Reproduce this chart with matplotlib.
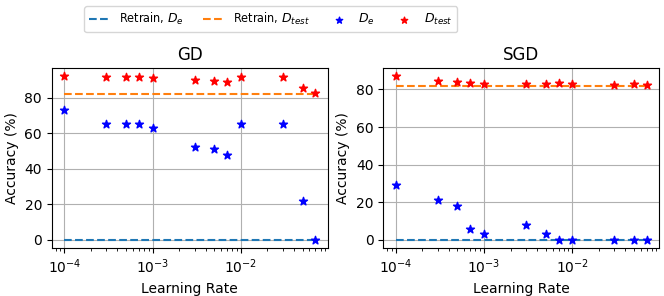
import numpy as np
import matplotlib as mpl
mpl.use('Agg')
import matplotlib.pyplot as plt

lrs = [1e-4, 3e-4, 5e-4, 7e-4, 1e-3, 3e-3, 5e-3, 7e-3, 1e-2, 3e-2, 5e-2, 7e-2]

gd_de = [73, 65, 65, 65, 63, 52, 51, 48, 65, 65, 22, 0]
gd_test = [92, 91.5, 91.5, 91.5, 91, 90, 89.5, 89, 91.5, 91.5, 85.5, 82.5]
sgd_de = [29, 21, 18, 6, 3, 8, 3, 0, 0, 0, 0, 0]
sgd_test = [87, 84.5, 84, 83.5, 83, 83, 83, 83.5, 83, 82.5, 83, 82.5]

retrain_de = 0
retrain_test = 82

titles = ['GD', 'SGD']
series = [(gd_de, gd_test), (sgd_de, sgd_test)]

fs = 10
fig, axes = plt.subplots(1, 2, figsize=(6.64, 2.96), dpi=100)
fig.subplots_adjust(left=0.078, right=0.993, top=0.77, bottom=0.162, wspace=0.2)

for ax, title, (de, test) in zip(axes, titles, series):
    ax.plot(lrs, [retrain_de] * len(lrs), '--', color='tab:blue', label='Retrain, $D_e$')
    ax.plot(lrs, [retrain_test] * len(lrs), '--', color='tab:orange', label='Retrain, $D_{test}$')
    ax.scatter(lrs, de, marker='*', color='blue', label='$D_e$', zorder=3)
    ax.scatter(lrs, test, marker='*', color='red', label='$D_{test}$', zorder=3)
    ax.set_xscale('log')
    ax.set_title(title, fontsize=12)
    ax.set_xlabel('Learning Rate', fontsize=fs)
    ax.set_ylabel('Accuracy (%)', fontsize=fs)
    ax.tick_params(labelsize=fs)
    ax.grid(True)
    ax.set_yticks([0, 20, 40, 60, 80])

# legend text is narrower in the original, use the condensed face
handles, labels = axes[0].get_legend_handles_labels()
fig.legend(handles, labels, loc='upper center', ncol=4,
           prop={'family': 'DejaVu Sans', 'stretch': 'condensed', 'size': 9},
           handlelength=1.7, handletextpad=0.7, columnspacing=1.5,
           markerscale=0.8, bbox_to_anchor=(0.408, 1.0))

fig.savefig('out.png', dpi=100)
